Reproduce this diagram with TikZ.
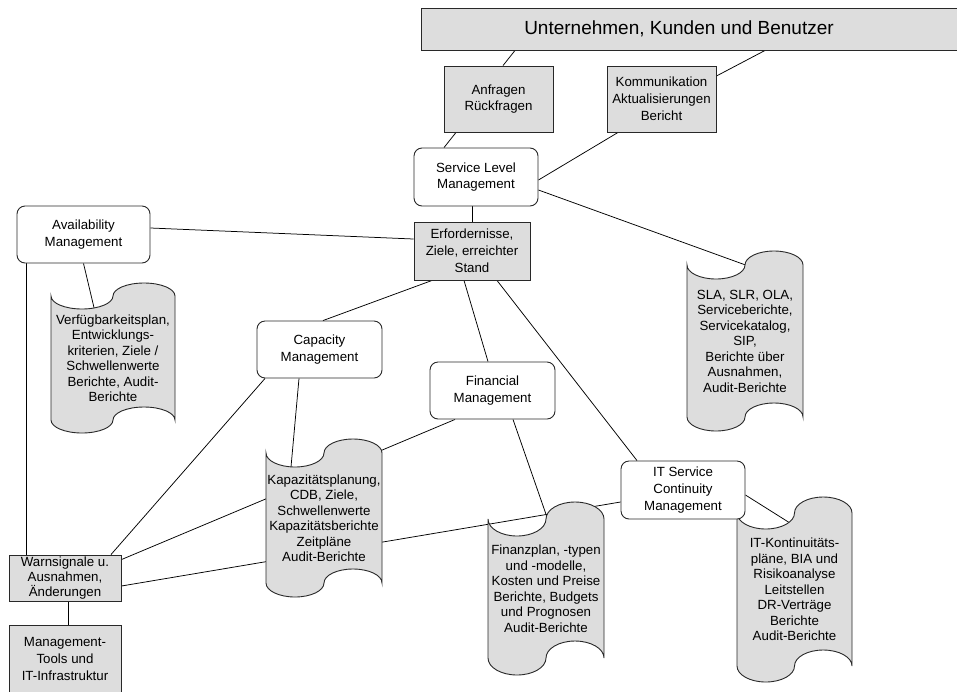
\documentclass[tikz,border=0pt]{standalone}
\usepackage{fontspec}
\setmainfont{Liberation Sans}
\pgfdeclarelayer{background}
\pgfsetlayers{background,main}
\definecolor{boxgray}{RGB}{221,221,221}
\definecolor{edgegray}{RGB}{40,40,40}

% Punched-tape document shape: left x, width, top corner y, bottom corner y, wave amplitude
\newcommand\tapedoc[5]{%
  \pgfmathsetmacro\tpxa{#1}%
  \pgfmathsetmacro\tpxk{0.5523*#2/4}%
  \pgfmathsetmacro\tpxb{#1+#2/4}%
  \pgfmathsetmacro\tpxc{#1+#2/2}%
  \pgfmathsetmacro\tpxd{#1+3*#2/4}%
  \pgfmathsetmacro\tpxe{#1+#2}%
  \pgfmathsetmacro\tpxm{0.5523*#5}%
  \pgfmathsetmacro\tptd{#3+#5}\pgfmathsetmacro\tptu{#3-#5}%
  \pgfmathsetmacro\tptp{#3+\tpxm}\pgfmathsetmacro\tptn{#3-\tpxm}%
  \pgfmathsetmacro\tpbd{#4+#5}\pgfmathsetmacro\tpbu{#4-#5}%
  \pgfmathsetmacro\tpbp{#4+\tpxm}\pgfmathsetmacro\tpbn{#4-\tpxm}%
  \path[docshape] (\tpxa,#3)
    .. controls (\tpxa,\tptp) and (\tpxb-\tpxk,\tptd) .. (\tpxb,\tptd)
    .. controls (\tpxb+\tpxk,\tptd) and (\tpxc,\tptp) .. (\tpxc,#3)
    .. controls (\tpxc,\tptn) and (\tpxd-\tpxk,\tptu) .. (\tpxd,\tptu)
    .. controls (\tpxd+\tpxk,\tptu) and (\tpxe,\tptn) .. (\tpxe,#3)
    -- (\tpxe,#4)
    .. controls (\tpxe,\tpbn) and (\tpxd+\tpxk,\tpbu) .. (\tpxd,\tpbu)
    .. controls (\tpxd-\tpxk,\tpbu) and (\tpxc,\tpbn) .. (\tpxc,#4)
    .. controls (\tpxc,\tpbp) and (\tpxb+\tpxk,\tpbd) .. (\tpxb,\tpbd)
    .. controls (\tpxb-\tpxk,\tpbd) and (\tpxa,\tpbp) .. (\tpxa,#4)
    -- cycle;%
}

\tikzset{
  basefont/.style={font=\fontsize{13.3}{16.8}\selectfont},
  graybox/.style={basefont, draw=edgegray, line width=0.9pt, fill=boxgray,
    inner sep=0pt, align=center},
  whitebox/.style={basefont, draw=edgegray, line width=0.9pt, fill=white,
    rounded corners=8pt, inner sep=0pt, align=center},
  doctext/.style={font=\fontsize{13.3}{15.5}\selectfont, inner sep=0pt, align=center},
  docshape/.style={draw=edgegray, line width=0.9pt, fill=boxgray},
  link/.style={draw=black, line width=0.75pt},
}

\begin{document}
\begin{tikzpicture}[x=1pt, y=-1pt]
\useasboundingbox (0,0) rectangle (957,691);

% document shapes (drawn first so the boxes lie above them)
\tapedoc{51}{124}{296}{420}{13}
\tapedoc{266}{116}{453}{583}{14}
\tapedoc{687}{116}{265}{417}{14}
\tapedoc{488}{116}{519}{658}{17}
\tapedoc{737}{115}{513}{666}{16}

\node[doctext, minimum width=124, minimum height=124] (avdoc) at (113,358)
  {Verfügbarkeitsplan,\\Entwicklungs-\\kriterien, Ziele /\\Schwellenwerte\\Berichte, Audit-\\Berichte};
\node[doctext, minimum width=116, minimum height=130] (capdoc) at (324,518)
  {Kapazitätsplanung,\\CDB, Ziele,\\Schwellenwerte\\Kapazitätsberichte\\Zeitpläne\\Audit-Berichte};
\node[doctext, minimum width=116, minimum height=152] (sladoc) at (745,341)
  {SLA, SLR, OLA,\\Serviceberichte,\\Servicekatalog,\\SIP,\\Berichte über\\Ausnahmen,\\Audit-Berichte};
\node[doctext, minimum width=116, minimum height=139] (findoc) at (546,588.5)
  {Finanzplan, -typen\\und -modelle,\\Kosten und Preise\\Berichte, Budgets\\und Prognosen\\Audit-Berichte};
\node[doctext, minimum width=115, minimum height=153] (itdoc) at (794.5,589.5)
  {IT-Kontinuitäts-\\pläne, BIA und\\Risikoanalyse\\Leitstellen\\DR-Verträge\\Berichte\\Audit-Berichte};

% top bar
\node[graybox, minimum width=560, minimum height=42, anchor=west] (top) at (421,29) {};
\node[font=\fontsize{19}{22}\selectfont, inner sep=0pt] (toptext) at (679,29)
  {Unternehmen, Kunden und Benutzer};

% grey data boxes
\node[graybox, minimum width=109, minimum height=66] (anf) at (498.5,99) {Anfragen\\Rückfragen};
\node[graybox, minimum width=109, minimum height=66] (kom) at (661.5,99)
  {Kommunikation\\Aktualisierungen\\Bericht};
\node[graybox, minimum width=116, minimum height=58] (erf) at (472,251)
  {Erfordernisse,\\Ziele, erreichter\\Stand};
\node[graybox, font=\fontsize{13.3}{14.6}\selectfont, minimum width=112, minimum height=46]
  (warn) at (65,578) {Warnsignale u.\\Ausnahmen,\\Änderungen};
\node[graybox, minimum width=112, minimum height=80] (mgmt) at (65,665) {};
\node[basefont, inner sep=0pt, align=center] (mgmttext) at (65,659)
  {Management-\\Tools und\\IT-Infrastruktur};

% management processes
\node[whitebox, minimum width=124, minimum height=58] (slm) at (476,177) {Service Level\\Management};
\node[whitebox, minimum width=133, minimum height=57] (avail) at (83.5,234.5) {Availability\\Management};
\node[whitebox, minimum width=125, minimum height=57] (cap) at (319.5,349.5) {Capacity\\Management};
\node[whitebox, minimum width=125, minimum height=57] (fin) at (492.5,390.5) {Financial\\Management};
\node[whitebox, minimum width=124, minimum height=58] (itscm) at (683,490)
  {IT Service\\Continuity\\Management};

% connectors, kept underneath all filled shapes
\begin{pgfonlayer}{background}
\fill[white] (0,0) rectangle (957,691);
\draw[link] ([xshift=94]top.south west) -- ([xshift=4.5]anf.north);
\draw[link] ([xshift=344]top.south west) -- ([yshift=23]kom.east);
\draw[link] ([xshift=-42.5]anf.south) -- ([xshift=-32]slm.north);
\draw[link] ([xshift=-43.5]kom.south) -- ([yshift=-3]slm.east);
\draw[link] ([xshift=-4]slm.south) -- (erf.north);
\draw[link] ([yshift=-13]slm.east) -- (sladoc.north);
\draw[link] ([yshift=6.5]avail.east) -- ([yshift=12]erf.west);
\draw[link] (avail.south) -- ([xshift=-18,yshift=-16]avdoc.north);
\draw[link] ([xshift=-57.5]avail.south) -- ([xshift=-39]warn.north);
\draw[link] ([xshift=-40]erf.south) -- ([xshift=3.5]cap.north);
\draw[link] ([xshift=-8]erf.south) -- ([xshift=-4.5]fin.north);
\draw[link] ([xshift=25]erf.south) -- ([xshift=-46]itscm.north);
\draw[link] ([xshift=-54.5]cap.south) -- ([xshift=46]warn.north);
\draw[link] ([xshift=-37.5]fin.south) -- ([yshift=-5]warn.north east);
\draw[link] ([yshift=-8]warn.east) -- ([yshift=-12]itscm.west);
\draw[link] ([xshift=-20.5]cap.south) -- ([xshift=-33.7,yshift=-22]capdoc.north);
\draw[link] ([xshift=20.5]fin.south) -- ([xshift=4,yshift=-7]findoc.north);
\draw[link] ([yshift=-5]itscm.east) -- ([xshift=1.5,yshift=-14]itdoc.north);
\draw[link] ([xshift=3]warn.south) -- ([xshift=3]mgmt.north);
\end{pgfonlayer}
\end{tikzpicture}
\end{document}
